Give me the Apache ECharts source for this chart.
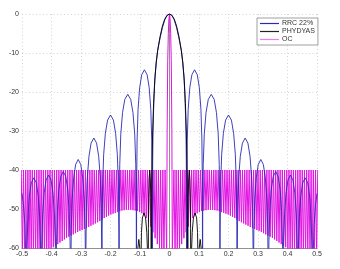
<!DOCTYPE html>
<html><head><meta charset="utf-8">
<script src="https://cdn.jsdelivr.net/npm/echarts@6/dist/echarts.min.js"></script>
<style>html,body{margin:0;padding:0;background:#fff}#c{width:340px;height:269px}</style>
</head><body><div id="c"></div>
<script>
// Tick values
const xTicks = [-0.5,-0.4,-0.3,-0.2,-0.1,0,0.1,0.2,0.3,0.4,0.5];
const yTicks = [-60,-50,-40,-30,-20,-10,0];
const seriesNames = ['RRC 22%','PHYDYAS','OC'];

// RRC 22% (right half, x >= 0; spectrum is symmetric)
const rrcHalfX = [0,0.008,0.016,0.024,0.032,0.04,0.045,0.049,0.052,0.0545,0.056,0.057,0.0577,0.058,
 0.0585,0.0602,0.0634,0.0688,0.0758,0.085,0.0942,0.1012,0.1066,0.1098,0.1115,0.112,
 0.1126,0.1144,0.1179,0.1238,0.1315,0.1415,0.1515,0.1592,0.1651,0.1686,0.1704,0.171,
 0.1716,0.1733,0.1768,0.1826,0.1901,0.2,0.2099,0.2174,0.2232,0.2267,0.2284,0.229,
 0.2296,0.2312,0.2345,0.24,0.2472,0.2565,0.2658,0.273,0.2785,0.2818,0.2835,0.284,
 0.2845,0.286,0.2891,0.2942,0.3008,0.3095,0.3182,0.3248,0.3299,0.333,0.3345,0.335,
 0.3355,0.337,0.34,0.345,0.3515,0.36,0.3685,0.375,0.38,0.383,0.3845,0.385,
 0.3855,0.387,0.39,0.395,0.4015,0.41,0.4185,0.425,0.43,0.433,0.4345,0.435,
 0.4355,0.437,0.44,0.445,0.4515,0.46,0.4685,0.475,0.48,0.483,0.4845,0.485,
 0.4855,0.487,0.49,0.495,0.5];
const rrcHalfY = [0,-0.4,-1.5,-3.5,-6.2,-9.3,-12.3,-16,-20.5,-26,-31,-38,-50,-80,
 -44.3,-32.3,-24.5,-18.9,-15.6,-14.3,-15.6,-18.9,-24.5,-32.3,-44.3,-80,
 -50.6,-38.6,-30.8,-25.3,-21.9,-20.6,-21.9,-25.3,-30.8,-38.6,-50.6,-80,
 -55.9,-43.9,-36.1,-30.6,-27.2,-25.9,-27.2,-30.6,-36.1,-43.9,-55.9,-80,
 -61.8,-49.8,-42,-36.5,-33.1,-31.8,-33.1,-36.5,-42,-49.8,-61.8,-80,
 -67.3,-55.3,-47.5,-42,-38.6,-37.3,-38.6,-42,-47.5,-55.3,-67.3,-80,
 -70.4,-58.4,-50.6,-45.1,-41.7,-40.4,-41.7,-45.1,-50.6,-58.4,-70.4,-80,
 -71.3,-59.3,-51.5,-46,-42.6,-41.3,-42.6,-46,-51.5,-59.3,-71.3,-80,
 -72,-60,-52.2,-46.7,-43.3,-42,-43.3,-46.7,-52.2,-60,-72,-80,
 -74,-62,-54,-49,-46];

// PHYDYAS (right half)
const phyHalfX = [0,0.008,0.016,0.024,0.032,0.04,0.045,0.05,0.054,0.057,0.059,0.0605,0.0615,0.062,
 0.0625,0.0635,0.065,0.067,0.069,0.0705,0.0715,0.072,
 0.0725,0.074,0.077,0.081,0.0865,0.092,0.095,0.0963,0.097,
 0.098,0.1,0.104,0.108,0.11,0.112,0.5];
const phyHalfY = [0,-0.3,-1.3,-3.1,-5.8,-9.3,-12.5,-17,-23,-30,-37,-46,-60,-80,
 -55,-47,-42,-40,-42,-47,-55,-80,
 -75,-62,-56,-52.3,-51,-52.3,-56,-62,-80,
 -66,-60.5,-57.8,-60.5,-66,-80,-80];

// OC (right half)
const ocHalfX = [0,0.002,0.004,0.006,0.008,0.0095,
 0.015,0.0188,0.0225,0.0263,0.03,0.0338,0.0375,0.0413,0.045,0.0488,0.0525,0.0563,0.06,0.0638,
 0.0675,0.0713,0.075,0.0788,0.0825,0.0863,0.09,0.0938,0.0975,0.1013,0.105,0.1088,0.1125,0.1163,
 0.12,0.1238,0.1275,0.1313,0.135,0.1388,0.1425,0.1463,0.15,0.1538,0.1575,0.1613,0.165,0.1688,
 0.1725,0.1763,0.18,0.1838,0.1875,0.1913,0.195,0.1988,0.2025,0.2063,0.21,0.2138,0.2175,0.2213,
 0.225,0.2288,0.2325,0.2363,0.24,0.2438,0.2475,0.2513,0.255,0.2588,0.2625,0.2663,0.27,0.2738,
 0.2775,0.2813,0.285,0.2888,0.2925,0.2963,0.3,0.3038,0.3075,0.3113,0.315,0.3188,0.3225,0.3263,
 0.33,0.3338,0.3375,0.3413,0.345,0.3488,0.3525,0.3563,0.36,0.3638,0.3675,0.3713,0.375,0.3788,
 0.3825,0.3863,0.39,0.3938,0.3975,0.4013,0.405,0.4088,0.4125,0.4163,0.42,0.4238,0.4275,0.4313,
 0.435,0.4388,0.4425,0.4463,0.45,0.4538,0.4575,0.4613,0.465,0.4688,0.4725,0.4763,0.48,0.4838,
 0.4875,0.4913,0.495,0.4988,0.5025];
const ocHalfY = [0,-1.2,-5,-12,-30,-62,
 -40,-62,-40,-61,-40,-60,-40,-59,-40,-57.5,-40,-56,-40,-54.5,
 -40,-53.3,-40,-52.3,-40,-51.6,-40,-51.1,-40,-50.8,-40,-50.5,-40,-50.4,
 -40,-50.3,-40,-50.2,-40,-50.2,-40,-50.2,-40,-50.3,-40,-50.4,-40,-50.6,
 -40,-50.8,-40,-51,-40,-51.2,-40,-51.4,-40,-51.7,-40,-52,-40,-52.3,
 -40,-52.7,-40,-53.1,-40,-53.4,-40,-53.7,-40,-54,-40,-54.3,-40,-54.6,
 -40,-54.9,-40,-55.1,-40,-55.4,-40,-55.6,-40,-55.9,-40,-56.2,-40,-56.5,
 -40,-56.8,-40,-57.1,-40,-57.4,-40,-57.8,-40,-58.2,-40,-58.6,-40,-59,
 -40,-59.4,-40,-59.8,-40,-60.3,-40,-61,-40,-62,-40,-62,-40,-62,-40,-62,
 -40,-62,-40,-62,-40,-62,-40,-62,-40,-62,-40,-62,-40,-62,-40,-62,-40];

function fullSpectrum(hx, hy) {
  const n = Math.min(hx.length, hy.length);
  const out = [];
  for (let i = n - 1; i >= 1; i--) out.push([-hx[i], hy[i]]);
  for (let i = 0; i < n; i++) out.push([hx[i], hy[i]]);
  return out;
}

const chart = echarts.init(document.getElementById('c'), null, {renderer: 'canvas'});
const font = 'Liberation Sans, Arial, sans-serif';
const grid = {left: 22, right: 23, top: 14, bottom: 21};
chart.setOption({
  animation: false,
  backgroundColor: '#fff',
  grid: grid,
  legend: {
    data: seriesNames,
    orient: 'vertical',
    left: 257, top: 18,
    padding: [2, 3, 2, 3],
    itemGap: 1,
    itemWidth: 19, itemHeight: 1.2,
    icon: 'rect',
    borderColor: '#888', borderWidth: 0.8,
    backgroundColor: '#fff',
    textStyle: {fontSize: 7, fontFamily: font, color: '#333', padding: [0, 0, 0, -2]}
  },
  xAxis: {
    type: 'value', min: -0.5, max: 0.5, interval: 0.1,
    axisLine: {show: true, onZero: false, lineStyle: {color: '#777', width: 0.8}},
    axisTick: {show: false},
    splitLine: {show: true, lineStyle: {color: '#c8c8c8', type: [1, 2.5], width: 0.8}},
    axisLabel: {fontSize: 7, fontFamily: font, color: '#333', margin: 3,
      formatter: v => String(Math.round(v * 10) / 10)}
  },
  yAxis: {
    type: 'value', min: -60, max: 0, interval: 10,
    axisLine: {show: true, lineStyle: {color: '#777', width: 0.8}},
    axisTick: {show: false},
    splitLine: {show: true, lineStyle: {color: '#c8c8c8', type: [1, 2.5], width: 0.8}},
    axisLabel: {fontSize: 7, fontFamily: font, color: '#333', margin: 3}
  },
  series: [
    {name: 'OC', type: 'line', data: fullSpectrum(ocHalfX, ocHalfY), showSymbol: false, symbol: 'none',
     lineStyle: {color: '#e214e2', width: 1}, itemStyle: {color: '#f07af0'}, z: 2, clip: true},
    {name: 'RRC 22%', type: 'line', data: fullSpectrum(rrcHalfX, rrcHalfY), showSymbol: false, symbol: 'none',
     lineStyle: {color: '#2a2ab4', width: 0.9}, itemStyle: {color: '#2a2ab4'}, z: 3, clip: true},
    {name: 'PHYDYAS', type: 'line', data: fullSpectrum(phyHalfX, phyHalfY), showSymbol: false, symbol: 'none',
     lineStyle: {color: '#000', width: 0.9}, itemStyle: {color: '#222'}, z: 4, clip: true}
  ]
});
</script>
</body></html>
